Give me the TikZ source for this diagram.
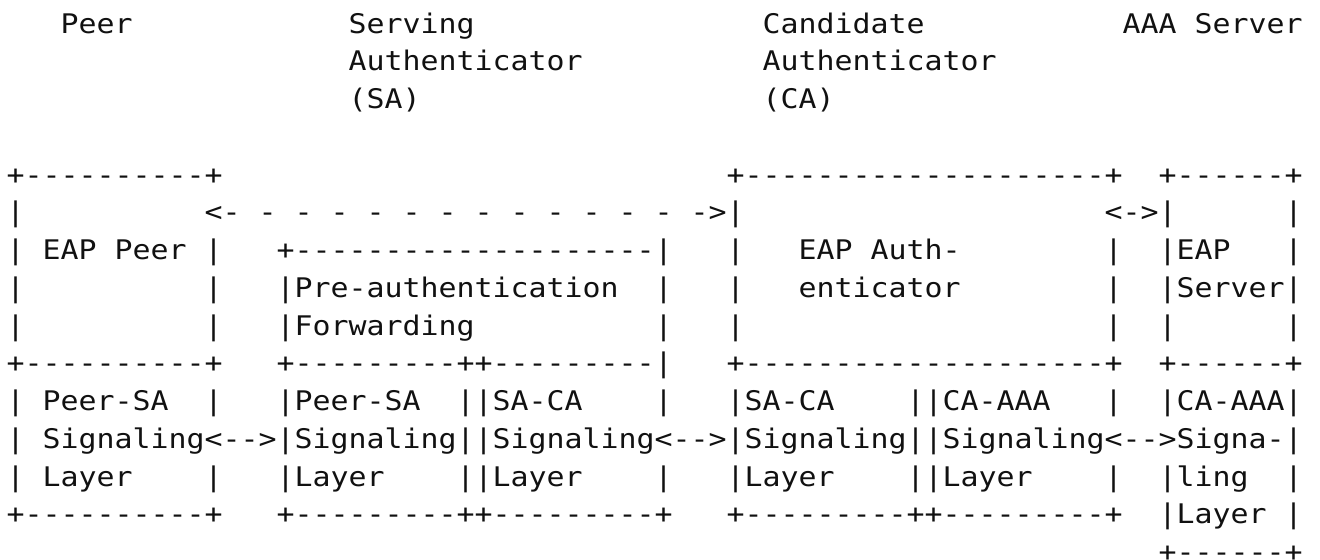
\documentclass[tikz,border=0pt]{standalone}
\usepackage{fontspec}
\setmonofont[FakeStretch=1.1073]{DejaVu Sans Mono}
\usepackage{xcolor}
\usepackage{tikz}
\definecolor{ink}{HTML}{111111}
\tikzset{
  every node/.style={text=ink},
  % one cell of the character grid is 18 px wide; text sits on its baseline
  glyphs/.style={anchor=base west, inner sep=0pt, outer sep=0pt,
                 font=\ttfamily\fontsize{13.5pt}{16pt}\selectfont},
}

\begin{document}
\begin{tikzpicture}[x=0.5pt,y=-0.5pt]
  % page in px, y downwards
  \useasboundingbox (0,0) rectangle (1320,559);
  \def\cw{18} \def\lh{37.75} \def\ox{6.7} \def\oy{33}

  % entity headings
  \foreach \c/\r/\t in {3/0/Peer, 19/0/Serving, 42/0/Candidate, 62/0/AAA Server,
                        19/1/Authenticator, 42/1/Authenticator,
                        19/2/{(SA)}, 42/2/{(CA)}}
    \node[glyphs] (g-\r-\c) at ({\ox+\cw*\c},{\oy+\lh*\r}) {\t};

  % upper boxes: EAP peer, pre-authentication forwarding, EAP authenticator, EAP server
  \foreach \c/\t in {0/+----------+, 40/+--------------------+, 64/+------+}
    \node[glyphs] (g-4-\c) at ({\ox+\cw*\c},{\oy+\lh*4}) {\t};
  \foreach \c/\t in {0/|, 11/<- - - - - - - - - - - - - ->|, 61/<->|, 71/|}
    \node[glyphs] (g-5-\c) at ({\ox+\cw*\c},{\oy+\lh*5}) {\t};
  \foreach \c/\t in {0/| EAP Peer |, 15/+--------------------|, 40/|, 44/EAP Auth-,
                     61/|, 64/|EAP, 71/|}
    \node[glyphs] (g-6-\c) at ({\ox+\cw*\c},{\oy+\lh*6}) {\t};
  \foreach \c/\t in {0/|, 11/|, 15/|Pre-authentication, 36/|, 40/|, 44/enticator,
                     61/|, 64/|Server|}
    \node[glyphs] (g-7-\c) at ({\ox+\cw*\c},{\oy+\lh*7}) {\t};
  \foreach \c/\t in {0/|, 11/|, 15/|Forwarding, 36/|, 40/|, 61/|, 64/|, 71/|}
    \node[glyphs] (g-8-\c) at ({\ox+\cw*\c},{\oy+\lh*8}) {\t};
  \foreach \c/\t in {0/+----------+, 15/+---------++---------|,
                     40/+--------------------+, 64/+------+}
    \node[glyphs] (g-9-\c) at ({\ox+\cw*\c},{\oy+\lh*9}) {\t};

  % signaling layers
  \foreach \c/\t in {0/| Peer-SA, 11/|, 15/|Peer-SA, 25/||SA-CA, 36/|, 40/|SA-CA,
                     50/||CA-AAA, 61/|, 64/|CA-AAA|}
    \node[glyphs] (g-10-\c) at ({\ox+\cw*\c},{\oy+\lh*10}) {\t};
  \node[glyphs] (g-11-0) at ({\ox},{\oy+\lh*11})
    {| Signaling<-->|Signaling||Signaling<-->|Signaling||Signaling<-->Signa-|};
  \foreach \c/\t in {0/| Layer, 11/|, 15/|Layer, 25/||Layer, 36/|, 40/|Layer,
                     50/||Layer, 61/|, 64/|ling, 71/|}
    \node[glyphs] (g-12-\c) at ({\ox+\cw*\c},{\oy+\lh*12}) {\t};
  \foreach \c/\t in {0/+----------+, 15/+---------++---------+,
                     40/+---------++---------+, 64/|Layer, 71/|}
    \node[glyphs] (g-13-\c) at ({\ox+\cw*\c},{\oy+\lh*13}) {\t};
  \node[glyphs] (g-14-64) at ({\ox+\cw*64},{\oy+\lh*14}) {+------+};
\end{tikzpicture}
\end{document}
